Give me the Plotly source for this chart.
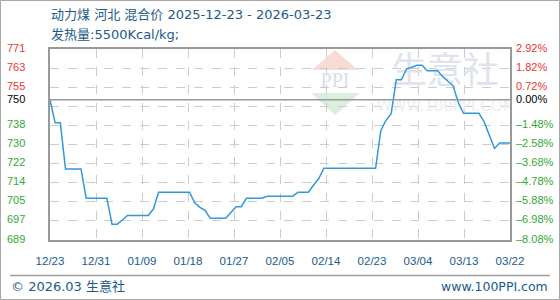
import plotly.graph_objects as go
import pandas as pd

# ---------------- data ----------------
title_line1 = "动力煤 河北 混合价 2025-12-23 - 2026-03-23"
title_line2 = "发热量:5500Kcal/kg;"
footer_left = "© 2026.03 生意社"
footer_right = "www.100PPI.com"

start_date = "2025-12-23"
end_date = "2026-03-22"

prices = [
    749.2, 739.3, 739.3, 719.5, 719.5, 719.5, 719.5, 706.9, 706.9, 706.9,
    706.9, 706.9, 695.8, 695.8, 697.6, 699.5, 699.5, 699.5, 699.5, 699.5,
    702.3, 709.5, 709.5, 709.5, 709.5, 709.5, 709.5, 709.5, 705.0, 703.0,
    701.7, 698.3, 698.3, 698.3, 698.3, 700.8, 703.3, 703.3, 706.9, 706.9,
    706.9, 706.9, 707.8, 707.8, 707.8, 707.8, 707.8, 707.8, 709.5, 709.5,
    709.5, 712.6, 715.4, 719.8, 719.8, 719.8, 719.8, 719.8, 719.8, 719.8,
    719.8, 719.8, 719.8, 719.8, 735.9, 740.4, 743.2, 757.8, 757.8, 762.5,
    763.2, 764.0, 764.0, 761.7, 761.7, 761.7, 759.1, 757.2, 755.2, 747.9,
    743.4, 743.4, 743.4, 743.4, 739.7, 733.7, 728.3, 730.6, 730.6, 730.6,
]
dates = pd.date_range(start_date, periods=len(prices), freq="D")

x_tick_labels = ["12/23", "12/31", "01/09", "01/18", "01/27", "02/05",
                 "02/14", "02/23", "03/04", "03/13", "03/22"]

y_min, y_max = 689, 771
y_step = 8.2
left_labels = ["689", "697", "705", "714", "722", "730", "738", "", "755", "763", "771"]
right_labels = ["–8.08%", "–6.98%", "–5.88%", "–4.78%", "–3.68%", "–2.58%",
                "–1.48%", "", "0.72%", "1.82%", "2.92%"]
base_value = 749.2
base_label = "750"
base_pct = "0.00%"

watermark_main = "生意社"
watermark_url = "WWW.100PPI.COM"
watermark_logo = "PPI"

# ---------------- style / layout helpers ----------------
W, H = 560, 300
L, R, T, B = 50, 510, 49, 240
RED = "#ee3333"
GREEN = "#33a833"
BLUE_TXT = "#1b5a8c"
LINE = "#3497d8"
TICK_FONT = "Liberation Sans, Arial, sans-serif"
TITLE_FONT = "DejaVu Sans, Noto Sans CJK SC, sans-serif"


def px(xp):
    return (xp - L) / (R - L)


def py(yp):
    return (B - yp) / (B - T)


t0 = pd.Timestamp(start_date)
t1 = pd.Timestamp(end_date)
n_int = len(x_tick_labels) - 1
x_tickvals = [t0 + (t1 - t0) * k / n_int for k in range(n_int + 1)]
y_tickvals = [y_min + y_step * k for k in range(len(left_labels))]

fig = go.Figure()

# watermark (drawn first so it sits under the line)
wx0 = t0 + (t1 - t0) * px(445)
wx1 = t0 + (t1 - t0) * px(446)
wx2 = t0 + (t1 - t0) * px(335)
fig.add_trace(go.Scatter(
    x=[wx0], y=[y_min + (y_max - y_min) * py(74)], mode="text",
    text=[watermark_main], textfont=dict(size=36, color="#dfe3ec",
                                         family="Noto Sans CJK SC"),
    hoverinfo="skip", showlegend=False))
fig.add_trace(go.Scatter(
    x=[wx1], y=[y_min + (y_max - y_min) * py(107)], mode="text",
    text=[watermark_url], textfont=dict(size=15, color="#eceef3",
                                        family="DejaVu Sans"),
    hoverinfo="skip", showlegend=False))
fig.add_trace(go.Scatter(
    x=[wx2], y=[y_min + (y_max - y_min) * py(82)], mode="text",
    text=[watermark_logo], textfont=dict(size=20, color="#d9dfea",
                                         family="Liberation Serif"),
    hoverinfo="skip", showlegend=False))

fig.add_trace(go.Scatter(
    x=dates, y=prices, mode="lines",
    line=dict(color=LINE, width=1.5),
    hoverinfo="x+y", showlegend=False))

shapes = []
# logo triangles
shapes.append(dict(type="path", xref="paper", yref="paper", layer="below",
                   path=f"M {px(312)} {py(70)} L {px(335)} {py(50)} L {px(358)} {py(70)} Z",
                   fillcolor="#f7dcd6", line=dict(width=0)))
shapes.append(dict(type="path", xref="paper", yref="paper", layer="below",
                   path=f"M {px(311)} {py(93)} L {px(360)} {py(93)} L {px(335)} {py(115)} Z",
                   fillcolor="#dcefdf", line=dict(width=0)))
# base line
shapes.append(dict(type="line", xref="paper", yref="y", x0=0, x1=1,
                   y0=base_value, y1=base_value,
                   line=dict(color="#9a9a9a", width=1.5)))
# footer separator
shapes.append(dict(type="line", xref="paper", yref="paper",
                   x0=px(10), x1=px(550), y0=py(275.5), y1=py(275.5),
                   line=dict(color="#a0a0a0", width=1.5)))
# outer frame
shapes.append(dict(type="rect", xref="paper", yref="paper",
                   x0=px(0.5), x1=px(559.5), y0=py(299.5), y1=py(0.5),
                   line=dict(color="#a8a8a8", width=1)))

ann = []
for v, lab, rlab in zip(y_tickvals, left_labels, right_labels):
    if not lab:
        continue
    col = RED if v > base_value else GREEN
    ann.append(dict(x=px(5), y=v, xref="paper", yref="y", text=lab,
                    showarrow=False, xanchor="left", yanchor="middle", yshift=1.5,
                    font=dict(family=TICK_FONT, size=11, color=col)))
    ann.append(dict(x=px(514), y=v, xref="paper", yref="y", text=rlab,
                    showarrow=False, xanchor="left", yanchor="middle", yshift=1.5,
                    font=dict(family=TICK_FONT, size=11, color=col)))
ann.append(dict(x=px(5), y=base_value, xref="paper", yref="y", text=base_label,
                showarrow=False, xanchor="left", yanchor="middle", yshift=1,
                font=dict(family=TICK_FONT, size=11, color="#000000")))
ann.append(dict(x=px(514), y=base_value, xref="paper", yref="y", text=base_pct,
                showarrow=False, xanchor="left", yanchor="middle", yshift=1,
                font=dict(family=TICK_FONT, size=11, color="#000000")))

ann.append(dict(x=px(49), y=py(15), xref="paper", yref="paper", text=title_line1,
                showarrow=False, xanchor="left", yanchor="middle",
                font=dict(family=TITLE_FONT, size=13, color=BLUE_TXT)))
ann.append(dict(x=px(49), y=py(34), xref="paper", yref="paper", text=title_line2,
                showarrow=False, xanchor="left", yanchor="middle",
                font=dict(family=TITLE_FONT, size=13, color=BLUE_TXT)))
ann.append(dict(x=px(9), y=py(286), xref="paper", yref="paper", text=footer_left,
                showarrow=False, xanchor="left", yanchor="middle",
                font=dict(family=TITLE_FONT, size=13, color=BLUE_TXT)))
ann.append(dict(x=px(550), y=py(286), xref="paper", yref="paper", text=footer_right,
                showarrow=False, xanchor="right", yanchor="middle",
                font=dict(family=TITLE_FONT, size=12.5, color=BLUE_TXT)))

fig.update_layout(
    width=W, height=H,
    margin=dict(l=L, r=W - R, t=T, b=H - B, pad=0),
    paper_bgcolor="white", plot_bgcolor="white",
    showlegend=False,
    shapes=shapes, annotations=ann,
    xaxis=dict(type="date", range=[t0, t1], tickvals=x_tickvals,
               ticktext=x_tick_labels, showgrid=True, gridcolor="#cccccc",
               griddash="dash", gridwidth=1, zeroline=False,
               showline=True, mirror=True, linecolor="#9a9a9a", linewidth=1.5,
               ticks="outside", ticklen=9, tickcolor="rgba(0,0,0,0)",
               tickfont=dict(family=TICK_FONT, size=11.5, color=BLUE_TXT),
               fixedrange=True),
    yaxis=dict(range=[y_min, y_max], tickvals=y_tickvals, showticklabels=False,
               showgrid=True, gridcolor="#cccccc", griddash="dash", gridwidth=1,
               zeroline=False, showline=True, mirror=True,
               linecolor="#9a9a9a", linewidth=1.5, ticks="", fixedrange=True),
)

fig.write_html("out.html")
